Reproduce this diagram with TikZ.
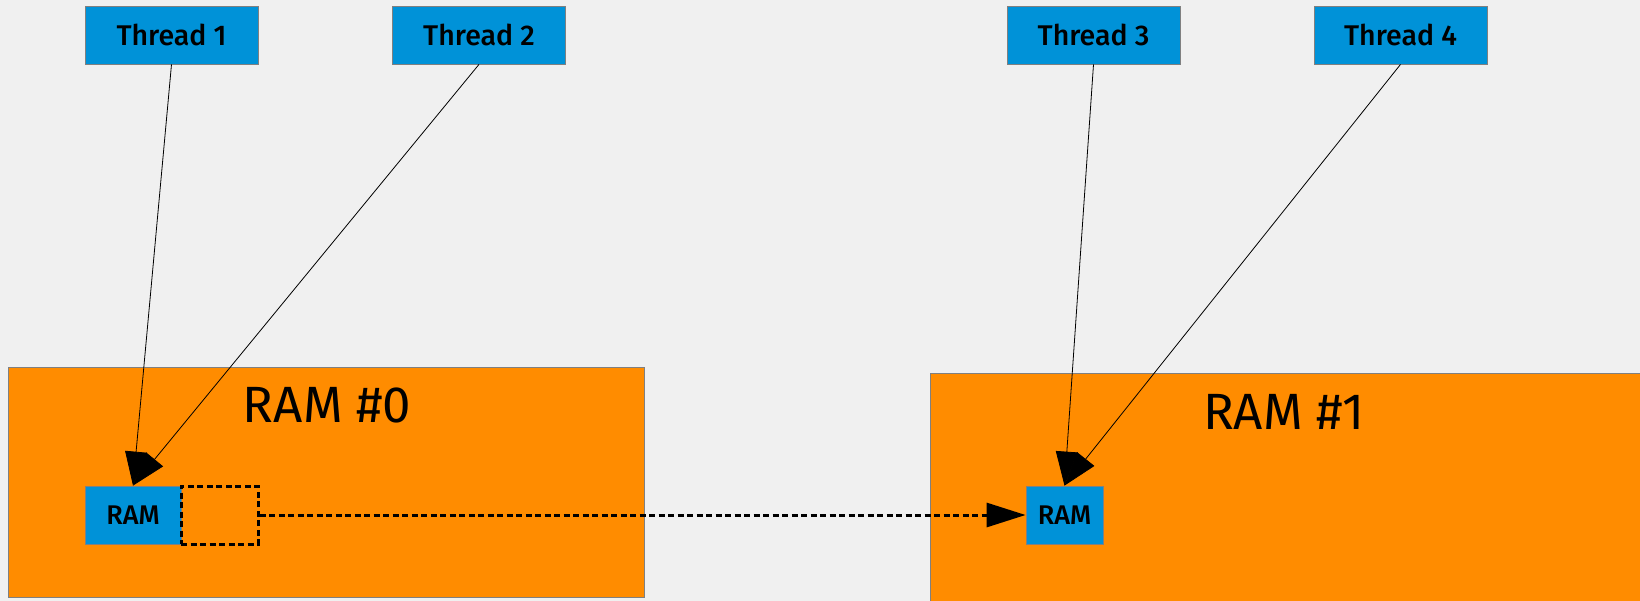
\documentclass[tikz,border=0pt]{standalone}
\usepackage{fontspec}
\setmainfont{Fira Sans}
\newfontfamily\medfont{Fira Sans}[UprightFont=* Medium]
\usetikzlibrary{arrows.meta}
\definecolor{bgcol}{HTML}{F0F0F0}
\definecolor{chipblue}{HTML}{0092D8}
\definecolor{nodeorange}{HTML}{FF8C00}
\definecolor{edgegray}{HTML}{808080}
\tikzset{
  thread/.style={draw=edgegray, line width=0.8pt, fill=chipblue, inner sep=0pt,
    minimum width=173pt, minimum height=58pt, font=\medfont\fontsize{28.5}{33}\selectfont},
  numa/.style={draw=edgegray, line width=0.8pt, fill=nodeorange, inner sep=0pt},
  ramchip/.style={draw=edgegray, line width=0.8pt, fill=chipblue, inner sep=0pt,
    minimum height=58pt, font=\medfont\fontsize{27}{32}\selectfont},
  ghost/.style={draw=black, line width=3pt, dash pattern=on 6pt off 3.5pt,
    inner sep=0pt, minimum width=77pt, minimum height=58pt},
  numalabel/.style={inner sep=0pt, font=\fontsize{51}{60}\selectfont},
  access/.style={line width=0.8pt, -{Triangle[length=34pt, width=22pt]}},
  migrate/.style={line width=3pt, dash pattern=on 6pt off 3.5pt,
    -{Triangle[length=39pt, width=24pt]}},
}
\begin{document}
\begin{tikzpicture}[x=1pt, y=-1pt]
  \fill[bgcol] (0,0) rectangle (1640,601);
  \useasboundingbox (0,0) rectangle (1640,601);
  \clip (0,0) rectangle (1640,601);

  % memory nodes
  \node[numa, minimum width=636pt, minimum height=230pt] (node0) at (326,482) {};
  \node[numa, minimum width=720pt, minimum height=240pt] (node1) at (1290,493) {};
  \node[numalabel] (lab0) at (327,405.5) {RAM \#0};
  \node[numalabel] (lab1) at (1284,412) {RAM \#1};

  % threads
  \node[thread] (t1) at (171.5,35) {Thread 1};
  \node[thread] (t2) at (479,35) {Thread 2};
  \node[thread] (t3) at (1093.5,35) {Thread 3};
  \node[thread] (t4) at (1400.5,35) {Thread 4};

  % memory pages
  \node[ramchip, minimum width=96pt] (ram0) at (133,515) {RAM};
  \node[ghost] (old) at (219.5,515) {};
  \node[ramchip, minimum width=77pt] (ram1) at (1064.5,515) {RAM};

  % accesses
  \draw[access] (t1.south) -- (ram0.north);
  \draw[access] (t2.south) -- (ram0.north);
  \draw[access] (t3.south) -- (ram1.north);
  \draw[access] (t4.south) -- (ram1.north);

  % page migration
  \draw[migrate] (old.east) -- (ram1.west);
\end{tikzpicture}
\end{document}
